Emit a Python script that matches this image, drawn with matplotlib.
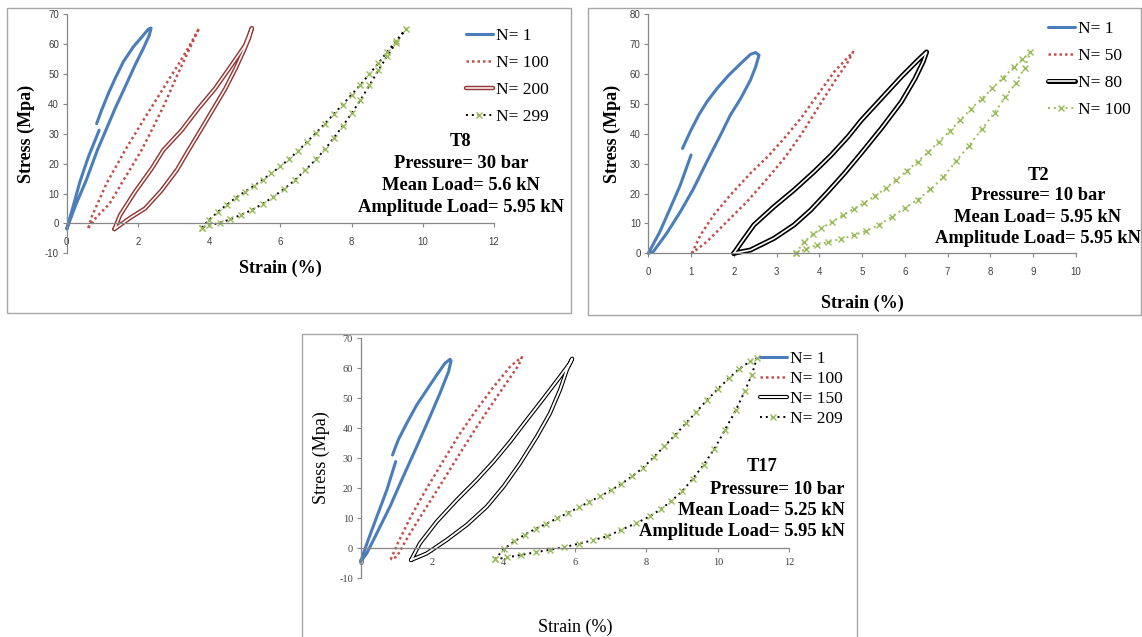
import matplotlib
matplotlib.use('Agg')
import matplotlib.pyplot as plt
import matplotlib.patheffects as pe
from matplotlib.patches import Rectangle

plt.rcParams['axes.unicode_minus'] = False
plt.rcParams['lines.solid_joinstyle'] = 'round'
plt.rcParams['lines.solid_capstyle'] = 'round'

W, H = 1142, 637
SERIF = 'Liberation Serif'
SANS = 'Liberation Sans'

# ---------------- T8 (top left) ----------------
t8_n1_x = [0.84, 0.98, 1.17, 1.36, 1.59, 1.87, 2.11, 2.29, 2.37,
           2.32, 2.15, 1.92, 1.64, 1.36, 1.1, 0.86, 0.55, 0.25, 0.0,
           0.19, 0.37, 0.61, 0.8, 0.91]
t8_n1_y = [33.4, 37.9, 43.5, 48.5, 54.1, 59.1, 62.4, 65.0, 65.4,
           63.0, 58.5, 53.0, 45.7, 38.5, 31.2, 24.5, 14.5, 6.1, -1.9,
           6.1, 13.9, 22.3, 27.9, 31.2]
t8_n100_x = [0.61, 0.7, 1.12, 1.64, 2.15, 2.65, 3.15, 3.45, 3.72,
             3.45, 3.1, 2.75, 2.4, 2.1, 1.8, 1.54, 1.2, 0.84, 0.61]
t8_n100_y = [-1.5, 2.2, 13.4, 24.5, 34.5, 44.0, 53.5, 59.5, 65.4,
             58.5, 49.5, 40.0, 31.5, 24.5, 18.5, 13.4, 6.5, 2.2, -1.5]
t8_n200_x = [1.34, 1.5, 1.92, 2.39, 2.71, 3.23, 3.7, 4.17, 4.63, 5.01, 5.2,
             5.12, 4.98, 4.75, 4.45, 4.1, 3.75, 3.42, 3.1, 2.66, 2.2, 1.8, 1.34]
t8_n200_y = [-1.9, 2.8, 10.6, 18.4, 24.5, 31.2, 38.5, 45.2, 53.0, 59.6, 65.4,
             62.0, 58.0, 52.0, 45.0, 38.0, 31.0, 24.5, 18.0, 11.0, 5.0, 2.0, -1.9]
t8_n299_x = [3.79, 4.0, 4.25, 4.5, 4.75, 5.0, 5.25, 5.5, 5.75, 6.0, 6.25, 6.5,
             6.75, 7.0, 7.25, 7.5, 7.75, 8.0, 8.25, 8.5, 8.75, 9.0, 9.25, 9.53,
             9.25, 9.0, 8.75, 8.5, 8.25, 8.0, 7.75, 7.5, 7.25, 7.0, 6.7, 6.4,
             6.1, 5.8, 5.5, 5.2, 4.9, 4.6, 4.3, 4.0, 3.79]
t8_n299_y = [-1.4, 1.2, 3.9, 6.3, 8.6, 10.6, 12.5, 14.6, 16.8, 19.1, 21.6, 24.3,
             27.3, 30.3, 33.4, 36.6, 39.8, 43.1, 46.4, 50.0, 53.6, 57.4, 61.1, 65.2,
             60.5, 56.0, 51.2, 46.2, 41.3, 36.8, 32.6, 28.6, 24.8, 21.4, 17.8, 14.4,
             11.5, 8.9, 6.5, 4.5, 2.9, 1.4, 0.2, -0.6, -1.4]
t8_labels = ['N= 1', 'N= 100', 'N= 200', 'N= 299']
t8_info = ['T8', 'Pressure= 30 bar', 'Mean Load= 5.6 kN', 'Amplitude Load= 5.95 kN']
t8_xticks = [0, 2, 4, 6, 8, 10, 12]
t8_yticks = [-10, 0, 10, 20, 30, 40, 50, 60, 70]

# ---------------- T2 (top right) ----------------
t2_n1_x = [0.8, 0.98, 1.18, 1.37, 1.61, 1.88, 2.16, 2.39, 2.51, 2.59,
           2.51, 2.39, 2.16, 1.92, 1.69, 1.37, 1.06, 0.75, 0.43, 0.12, 0.0,
           0.27, 0.51, 0.75, 1.0]
t2_n1_y = [35.1, 40.7, 46.3, 50.7, 55.2, 59.6, 63.5, 66.6, 67.2, 66.3,
           62.4, 58.0, 51.8, 46.3, 39.6, 30.7, 21.7, 13.9, 6.7, 0.6, 0.0,
           7.2, 15.0, 22.9, 32.9]
t2_n50_x = [1.02, 1.22, 1.53, 1.92, 2.39, 2.79, 3.18, 3.57, 3.96, 4.35, 4.79,
            4.67, 4.35, 3.96, 3.57, 3.18, 2.79, 2.31, 1.84, 1.37, 1.02]
t2_n50_y = [0.0, 6.1, 12.8, 19.5, 26.8, 32.3, 38.5, 45.2, 53.0, 60.8, 67.4,
            64.1, 57.4, 48.5, 39.6, 31.8, 25.1, 17.3, 10.6, 3.9, 0.0]
t2_n80_x = [2.0, 2.16, 2.47, 2.94, 3.41, 3.88, 4.28, 4.67, 4.98, 5.45, 5.92, 6.31, 6.51,
            6.43, 6.24, 5.92, 5.45, 4.98, 4.59, 4.2, 3.8, 3.41, 2.94, 2.39, 2.0]
t2_n80_y = [0.0, 3.3, 9.5, 15.6, 21.2, 27.3, 32.9, 39.0, 44.5, 51.8, 59.1, 64.7, 67.4,
            64.1, 58.5, 50.7, 41.8, 33.5, 26.8, 20.6, 14.5, 9.5, 5.0, 1.1, 0.0]
t2_n100_x = [3.45, 3.65, 3.85, 4.05, 4.3, 4.55, 4.8, 5.05, 5.3, 5.55, 5.8, 6.05,
             6.3, 6.55, 6.8, 7.05, 7.3, 7.55, 7.8, 8.05, 8.3, 8.55, 8.75, 8.94,
             8.8, 8.6, 8.35, 8.1, 7.8, 7.5, 7.2, 6.9, 6.6, 6.3, 6.0, 5.7,
             5.4, 5.1, 4.8, 4.5, 4.2, 3.95, 3.7, 3.45]
t2_n100_y = [0.0, 3.9, 6.3, 8.4, 10.5, 12.8, 14.8, 16.9, 19.2, 21.7, 24.6, 27.6,
             30.7, 33.9, 37.4, 40.9, 44.6, 48.4, 51.8, 55.2, 58.8, 62.3, 64.9, 67.4,
             62.0, 57.0, 52.3, 47.1, 41.5, 36.0, 30.9, 25.5, 21.4, 18.0, 15.1, 12.3,
             9.6, 7.5, 6.0, 4.8, 3.7, 2.8, 1.5, 0.0]
t2_labels = ['N= 1', 'N= 50', 'N= 80', 'N= 100']
t2_info = ['T2', 'Pressure= 10 bar', 'Mean Load= 5.95 kN', 'Amplitude Load= 5.95 kN']
t2_xticks = [0, 1, 2, 3, 4, 5, 6, 7, 8, 9, 10]
t2_yticks = [0, 10, 20, 30, 40, 50, 60, 70, 80]

# ---------------- T17 (bottom) ----------------
t17_n1_x = [0.89, 1.05, 1.29, 1.57, 1.85, 2.13, 2.36, 2.5, 2.53,
            2.46, 2.22, 1.94, 1.57, 1.19, 0.82, 0.45, 0.17, 0.0,
            0.21, 0.45, 0.73, 0.98]
t17_n1_y = [31.1, 36.1, 41.7, 47.8, 52.8, 57.8, 61.7, 63.0, 62.5,
            58.9, 51.7, 43.9, 33.9, 23.9, 13.9, 5.0, -1.7, -4.4,
            2.8, 10.5, 19.4, 28.9]
t17_n100_x = [0.84, 1.05, 1.4, 1.82, 2.27, 2.72, 3.2, 3.7, 4.2, 4.51,
              4.42, 4.1, 3.7, 3.25, 2.78, 2.32, 1.85, 1.38, 1.01, 0.84]
t17_n100_y = [-3.7, 2.0, 10.5, 19.4, 28.3, 37.2, 45.5, 53.5, 60.8, 63.7,
              61.0, 55.5, 48.5, 40.5, 31.7, 22.8, 13.9, 5.0, -2.8, -3.7]
t17_n150_x = [1.41, 1.66, 2.13, 2.69, 3.25, 3.72, 4.18, 4.65, 5.12, 5.58, 5.86, 5.92,
              5.77, 5.58, 5.3, 4.93, 4.46, 4.0, 3.53, 2.97, 2.41, 1.85, 1.41]
t17_n150_y = [-3.9, 1.7, 8.9, 16.1, 22.8, 28.9, 35.5, 42.8, 50.0, 57.2, 61.7, 63.2,
              59.4, 52.8, 45.0, 37.2, 28.3, 20.6, 13.9, 7.8, 2.8, -1.7, -3.9]
t17_n209_x = [3.76, 4.0, 4.3, 4.6, 4.9, 5.2, 5.5, 5.8, 6.1, 6.4, 6.7, 7.0, 7.3,
              7.6, 7.9, 8.2, 8.5, 8.8, 9.1, 9.4, 9.7, 10.0, 10.3, 10.6, 10.9, 11.09,
              10.95, 10.75, 10.5, 10.2, 9.9, 9.6, 9.3, 9.0, 8.7, 8.4, 8.1, 7.7,
              7.3, 6.9, 6.5, 6.1, 5.7, 5.3, 4.9, 4.5, 4.1, 3.76]
t17_n209_y = [-3.7, -0.3, 2.3, 4.6, 6.5, 8.2, 10.0, 11.8, 13.6, 15.5, 17.3, 19.3, 21.5,
              24.0, 26.8, 30.3, 34.0, 37.7, 41.6, 45.5, 49.5, 53.1, 56.6, 59.8, 62.3, 63.3,
              57.8, 52.3, 46.0, 39.5, 33.1, 27.8, 23.2, 19.0, 15.8, 13.0, 10.7, 8.3,
              6.2, 4.0, 2.7, 1.5, 0.4, -0.5, -1.3, -2.2, -3.0, -3.7]
t17_labels = ['N= 1', 'N= 100', 'N= 150', 'N= 209']
t17_info = ['T17', 'Pressure= 10 bar', 'Mean Load= 5.25 kN', 'Amplitude Load= 5.95 kN']
t17_xticks = [0, 2, 4, 6, 8, 10, 12]
t17_yticks = [-10, 0, 10, 20, 30, 40, 50, 60, 70]

BLUE = '#4a7ebb'
RED = '#c0504d'
GREEN = '#9bbb59'
DARKRED = '#953735'


def fx(p):
    return p / W


def fy(p):
    return 1 - p / H


fig = plt.figure(figsize=(W / 100, H / 100), dpi=100)
fig.patch.set_facecolor('white')

# panel borders
for (l, t, r, b) in [(7, 8, 571, 313), (588, 8, 1141, 315), (302, 334, 857, 640)]:
    fig.add_artist(Rectangle((fx(l), fy(b)), fx(r - l), (b - t) / H, transform=fig.transFigure,
                             fill=False, ec='#a6a6a6', lw=1.0))


def make_axes(rect, xticks, yticks, tickfont, xpad, ticksize):
    l, t, r, b = rect
    ax = fig.add_axes([fx(l), fy(b), fx(r - l), (b - t) / H])
    ax.set_xlim(xticks[0], xticks[-1])
    ax.set_ylim(yticks[0], yticks[-1])
    ax.set_xticks(xticks)
    ax.set_yticks(yticks)
    for s in ['top', 'right']:
        ax.spines[s].set_visible(False)
    ax.spines['bottom'].set_position(('data', 0))
    for s in ['left', 'bottom']:
        ax.spines[s].set_color('#868686')
        ax.spines[s].set_linewidth(0.9)
    ax.tick_params(direction='out', length=3, width=0.8, color='#868686',
                   labelsize=ticksize, labelcolor='#404040')
    ax.tick_params(axis='x', pad=xpad)
    ax.tick_params(axis='y', pad=2.5)
    for lab in ax.get_xticklabels() + ax.get_yticklabels():
        lab.set_fontfamily([tickfont, 'DejaVu Sans'])
    ax.patch.set_visible(False)
    return ax


def double_line(ax, x, y, outer, lw_out, lw_in, label):
    ax.plot(x, y, color='white', lw=lw_in, label=label, clip_on=False,
            path_effects=[pe.Stroke(linewidth=lw_out, foreground=outer), pe.Normal()])


def info_block(lines, xs, ys, has):
    for s, x, y, ha in zip(lines, xs, ys, has):
        fig.text(fx(x), fy(y), s, ha=ha, va='center', fontsize=13.3, fontweight='bold',
                 family=[SERIF, 'DejaVu Serif'])


def legend(ax, x, y, spacing):
    ax.legend(loc='upper left', bbox_to_anchor=(fx(x), fy(y)), bbox_transform=fig.transFigure,
              frameon=False, prop={'family': SERIF, 'size': 12.5}, handlelength=1.55,
              handletextpad=0.15, labelspacing=spacing, borderpad=0, borderaxespad=0)


# ---------- panel T8 ----------
ax1 = make_axes((66.7, 14.3, 494, 253.3), t8_xticks, t8_yticks, SANS, 7, 7)
ax1.plot(t8_n1_x, t8_n1_y, color=BLUE, lw=2.2, label=t8_labels[0], clip_on=False)
ax1.plot(t8_n100_x, t8_n100_y, color=RED, lw=1.8, ls=(0, (1, 1.2)), label=t8_labels[1], clip_on=False)
double_line(ax1, t8_n200_x, t8_n200_y, DARKRED, 3.2, 1.1, t8_labels[2])
ax1.plot(t8_n299_x, t8_n299_y, color='black', lw=1.4, ls=(0, (1, 2)), marker='x', ms=4.5,
         mec=GREEN, mew=1.0, label=t8_labels[3], clip_on=False)
legend(ax1, 466, 28, 0.62)
info_block(t8_info, [461] * 4, [142, 163.5, 185.5, 207], ['center'] * 4)
fig.text(fx(280), fy(268), 'Strain (%)', ha='center', va='center', fontsize=13,
         fontweight='bold', family=[SERIF, 'DejaVu Serif'])
fig.text(fx(26), fy(134), 'Stress (Mpa)', ha='center', va='center', rotation=90, fontsize=13,
         fontweight='bold', family=[SERIF, 'DejaVu Serif'])

# ---------- panel T2 ----------
ax2 = make_axes((648.3, 14.3, 1075.8, 253.3), t2_xticks, t2_yticks, SANS, 7, 7)
ax2.plot(t2_n1_x, t2_n1_y, color=BLUE, lw=2.2, label=t2_labels[0], clip_on=False)
ax2.plot(t2_n50_x, t2_n50_y, color=RED, lw=1.8, ls=(0, (1, 1.2)), label=t2_labels[1], clip_on=False)
double_line(ax2, t2_n80_x, t2_n80_y, 'black', 3.6, 1.2, t2_labels[2])
ax2.plot(t2_n100_x, t2_n100_y, color=GREEN, lw=1.4, ls=(0, (1, 2)), marker='x', ms=4.5,
         mec=GREEN, mew=1.0, label=t2_labels[3], clip_on=False)
legend(ax2, 1048, 21, 0.62)
info_block(t2_info, [1038] * 4, [175, 196, 217, 238.5], ['center'] * 4)
fig.text(fx(862), fy(303), 'Strain (%)', ha='center', va='center', fontsize=13,
         fontweight='bold', family=[SERIF, 'DejaVu Serif'])
fig.text(fx(612), fy(134), 'Stress (Mpa)', ha='center', va='center', rotation=90, fontsize=13,
         fontweight='bold', family=[SERIF, 'DejaVu Serif'])

# ---------- panel T17 ----------
ax3 = make_axes((360.7, 338.3, 789.3, 578.3), t17_xticks, t17_yticks, SERIF, 4.2, 7.5)
ax3.plot(t17_n1_x, t17_n1_y, color=BLUE, lw=2.2, label=t17_labels[0], clip_on=False)
ax3.plot(t17_n100_x, t17_n100_y, color=RED, lw=1.8, ls=(0, (1, 1.2)), label=t17_labels[1], clip_on=False)
double_line(ax3, t17_n150_x, t17_n150_y, 'black', 3.0, 1.4, t17_labels[2])
ax3.plot(t17_n209_x, t17_n209_y, color='black', lw=1.4, ls=(0, (1, 2)), marker='x', ms=4.5,
         mec=GREEN, mew=1.0, label=t17_labels[3], clip_on=False)
legend(ax3, 760, 351, 0.22)
info_block(t17_info, [762, 845, 845, 845], [466.5, 489, 510.5, 532],
           ['center', 'right', 'right', 'right'])
fig.text(fx(575), fy(627), 'Strain (%)', ha='center', va='center', fontsize=13,
         family=[SERIF, 'DejaVu Serif'])
fig.text(fx(321), fy(458), 'Stress (Mpa)', ha='center', va='center', rotation=90, fontsize=13,
         family=[SERIF, 'DejaVu Serif'])

fig.savefig('out.png', dpi=100, facecolor='white')
